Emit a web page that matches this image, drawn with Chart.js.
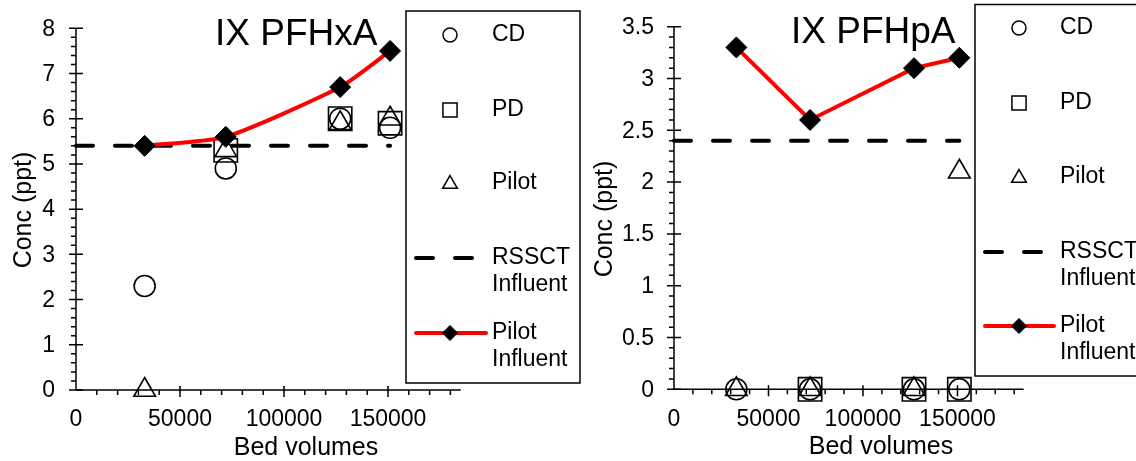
<!DOCTYPE html>
<html>
<head>
<meta charset="utf-8">
<title>IX PFHxA / PFHpA</title>
<script src="https://cdn.jsdelivr.net/npm/chart.js@4/dist/chart.umd.min.js"></script>
<style>
    html, body { margin: 0; padding: 0; background: #fff; }
    #wrap { position: relative; width: 1136px; height: 461px; overflow: hidden; }
    #wrap canvas { position: absolute; left: 0; top: 0; }
</style>
</head>
<body>
<div id="wrap">
    <canvas id="chartHxA" width="1136" height="461"></canvas>
    <canvas id="chartHpA" width="1136" height="461"></canvas>
</div>
<script>
// bed volumes of the sampling points (same for both panels)
const bedVolumes = [33000, 72000, 127000, 151000];
const rssctSpan = [0, 151000];
const xTickLabels = ['0', '50000', '100000', '150000'];

// PFHxA (ppt)
const hxaCD = [2.3, 4.9, 6.0, 5.8];
const hxaPD = [null, 5.3, 6.0, 5.9];
const hxaPilot = [0, 5.3, 5.9, 6.0];
const hxaRssctInfluent = 5.4;
const hxaPilotInfluent = [5.4, 5.6, 6.7, 7.5];
const hxaYTicks = ['0', '1', '2', '3', '4', '5', '6', '7', '8'];

// PFHpA (ppt)
const hpaCD = [0, 0, 0, 0];
const hpaPD = [null, 0, 0, 0];
const hpaPilot = [0, 0, 0, 2.1];
const hpaRssctInfluent = 2.4;
const hpaPilotInfluent = [3.3, 2.6, 3.1, 3.2];
const hpaYTicks = ['0', '0.5', '1', '1.5', '2', '2.5', '3', '3.5'];

const legendNames = ['CD', 'PD', 'Pilot', ['RSSCT', 'Influent'], ['Pilot', 'Influent']];

const FONT = '"Liberation Sans", Arial, sans-serif';

function toPoints(ys) {
    const pts = [];
    ys.forEach((y, i) => {
        if (y !== null) pts.push({ x: bedVolumes[i], y: y });
    });
    return pts;
}

function markerSet(label, ys, style, radius, order) {
    return {
        label: label,
        data: toPoints(ys),
        showLine: false,
        pointStyle: style,
        pointRadius: radius,
        pointHoverRadius: radius,
        pointBackgroundColor: 'rgba(0,0,0,0)',
        pointBorderColor: '#000',
        pointBorderWidth: 1.6,
        clip: false,
        order: order
    };
}

// axes, ticks and all text, drawn Excel style
const excelPlugin = {
    id: 'excelLook',
    beforeDatasetsDraw(chart, args, o) {
        const ctx = chart.ctx;
        const xs = chart.scales.x, ys = chart.scales.y;
        const ax = xs.getPixelForValue(0), ay = ys.getPixelForValue(0);
        ctx.save();
        ctx.strokeStyle = '#000';
        ctx.lineWidth = 1.5;
        ctx.beginPath();
        ctx.moveTo(ax, ys.getPixelForValue(o.yMax));
        ctx.lineTo(ax, ay);
        ctx.moveTo(ax, ay);
        ctx.lineTo(xs.getPixelForValue(o.xMax), ay);
        ctx.stroke();

        // y ticks
        ctx.beginPath();
        const ny = Math.round(o.yMax / o.yMinor);
        for (let i = 0; i <= ny; i++) {
            const v = i * o.yMinor;
            const py = ys.getPixelForValue(v);
            const major = Math.abs(v / o.yMajor - Math.round(v / o.yMajor)) < 1e-6;
            if (major) { ctx.moveTo(ax - 7, py); ctx.lineTo(ax + 7, py); }
            else { ctx.moveTo(ax - 5, py); ctx.lineTo(ax, py); }
        }
        // x ticks
        const nx = Math.floor(o.xMax / o.xMinor);
        for (let i = 1; i <= nx; i++) {
            const v = i * o.xMinor;
            const px = xs.getPixelForValue(v);
            if (v % o.xMajor === 0) { ctx.moveTo(px, ay - 4); ctx.lineTo(px, ay + 7); }
            else { ctx.moveTo(px, ay); ctx.lineTo(px, ay + 5); }
        }
        ctx.stroke();
        ctx.restore();
    },
    afterDraw(chart, args, o) {
        const ctx = chart.ctx;
        const xs = chart.scales.x, ys = chart.scales.y;
        const ax = xs.getPixelForValue(0), ay = ys.getPixelForValue(0);
        ctx.save();
        ctx.fillStyle = '#000';

        // tick labels
        ctx.font = '23px ' + FONT;
        ctx.textAlign = 'right';
        ctx.textBaseline = 'middle';
        o.yLabels.forEach((t, i) => {
            ctx.fillText(t, ax - o.yLabelGap, ys.getPixelForValue(i * o.yMajor) + 1);
        });
        ctx.textAlign = 'center';
        xTickLabels.forEach((t, i) => {
            ctx.fillText(t, xs.getPixelForValue(i * o.xMajor), ay + 30);
        });

        // axis titles
        ctx.font = '25px ' + FONT;
        ctx.fillText('Bed volumes', o.xTitle[0], o.xTitle[1]);
        ctx.save();
        ctx.translate(o.yTitle[0], o.yTitle[1]);
        ctx.rotate(-Math.PI / 2);
        ctx.fillText('Conc (ppt)', 0, 0);
        ctx.restore();

        // panel title
        ctx.font = '37px ' + FONT;
        ctx.textAlign = 'left';
        ctx.textBaseline = 'alphabetic';
        ctx.fillText(o.title, o.titlePos[0], o.titlePos[1]);

        // legend box
        const L = o.legend;
        ctx.fillStyle = '#fff';
        ctx.fillRect(L.left, L.top, L.right - L.left, L.bottom - L.top);
        ctx.strokeStyle = '#000';
        ctx.lineWidth = 1.5;
        ctx.strokeRect(L.left, L.top, L.right - L.left, L.bottom - L.top);

        const mx = L.markerX;
        const h = Chart.helpers;
        ctx.fillStyle = 'rgba(0,0,0,0)';
        ctx.lineWidth = 1.5;
        h.drawPoint(ctx, { pointStyle: 'circle', radius: 7, borderWidth: 1.5 }, mx, L.rows[0]);
        h.drawPoint(ctx, { pointStyle: 'rect', radius: 10, borderWidth: 1.5 }, mx, L.rows[1]);
        h.drawPoint(ctx, { pointStyle: 'triangle', radius: 8.5, borderWidth: 1.5 }, mx, L.rows[2] + 1);

        // dashed line sample
        ctx.save();
        ctx.lineWidth = 4;
        ctx.lineCap = 'round';
        ctx.setLineDash([17, 22]);
        ctx.beginPath();
        ctx.moveTo(L.lineFrom, L.rows[3]);
        ctx.lineTo(L.dashTo, L.rows[3]);
        ctx.stroke();
        ctx.restore();

        // red line with diamond
        ctx.save();
        ctx.strokeStyle = '#ff0000';
        ctx.lineWidth = 4;
        ctx.lineCap = 'round';
        ctx.beginPath();
        ctx.moveTo(L.lineFrom, L.rows[4]);
        ctx.lineTo(L.redTo, L.rows[4]);
        ctx.stroke();
        ctx.restore();
        ctx.fillStyle = '#000';
        ctx.strokeStyle = '#000';
        ctx.lineWidth = 1;
        h.drawPoint(ctx, { pointStyle: 'rectRot', radius: 7.5, borderWidth: 1 }, mx, L.rows[4]);

        // legend text
        ctx.fillStyle = '#000';
        ctx.font = '23px ' + FONT;
        ctx.textAlign = 'left';
        ctx.textBaseline = 'middle';
        legendNames.forEach((name, i) => {
            if (Array.isArray(name)) {
                ctx.fillText(name[0], L.textX, L.rows[i]);
                ctx.fillText(name[1], L.textX, L.rows[i] + 27);
            } else {
                ctx.fillText(name, L.textX, L.rows[i]);
            }
        });
        ctx.restore();
    }
};

function makePanel(canvasId, d, look) {
    const ctx = document.getElementById(canvasId).getContext('2d');
    return new Chart(ctx, {
        type: 'scatter',
        data: {
            datasets: [
                {
                    label: 'Pilot Influent',
                    data: toPoints(d.pilotInf),
                    showLine: true,
                    borderColor: '#ff0000',
                    borderWidth: 4,
                    tension: d.tension,
                    pointStyle: 'rectRot',
                    pointRadius: 10.5,
                    pointHoverRadius: 10.5,
                    pointBackgroundColor: '#000',
                    pointBorderColor: '#000',
                    pointBorderWidth: 1,
                    clip: false,
                    order: 0
                },
                {
                    label: 'RSSCT Influent',
                    data: rssctSpan.map(x => ({ x: x, y: d.rssct })),
                    showLine: true,
                    borderColor: '#000',
                    borderWidth: 4,
                    borderDash: [17, 22],
                    borderCapStyle: 'round',
                    pointRadius: 0,
                    clip: false,
                    order: 1
                },
                markerSet('Pilot', d.pilot, 'triangle', 12.5, 2),
                markerSet('PD', d.pd, 'rect', 16.5, 3),
                markerSet('CD', d.cd, 'circle', 10.5, 4)
            ]
        },
        options: {
            responsive: false,
            devicePixelRatio: 1,
            animation: false,
            events: [],
            layout: { padding: look.padding },
            scales: {
                x: { type: 'linear', min: 0, max: look.xMax, display: false },
                y: { type: 'linear', min: 0, max: look.yMax, display: false }
            },
            plugins: {
                legend: { display: false },
                tooltip: { enabled: false },
                excelLook: look
            }
        },
        plugins: [excelPlugin]
    });
}

// left panel: PFHxA
makePanel('chartHxA', {
    cd: hxaCD, pd: hxaPD, pilot: hxaPilot,
    rssct: hxaRssctInfluent, pilotInf: hxaPilotInfluent, tension: 0.2
}, {
    padding: { left: 76, top: 28.3, right: 1136 - 460.8, bottom: 461 - 390 },
    xMax: 185000, xMajor: 50000, xMinor: 10000,
    yMax: 8, yMajor: 1, yMinor: 0.2, yLabels: hxaYTicks, yLabelGap: 21,
    title: 'IX PFHxA', titlePos: [215, 45],
    xTitle: [306, 448], yTitle: [24, 210],
    legend: {
        left: 406, top: 11, right: 580, bottom: 383,
        markerX: 450, textX: 492, lineFrom: 416, dashTo: 472, redTo: 486,
        rows: [35, 110, 183, 258, 333]
    }
});

// right panel: PFHpA
makePanel('chartHpA', {
    cd: hpaCD, pd: hpaPD, pilot: hpaPilot,
    rssct: hpaRssctInfluent, pilotInf: hpaPilotInfluent, tension: 0
}, {
    padding: { left: 674, top: 26.7, right: 1136 - 1023.6, bottom: 461 - 389.3 },
    xMax: 185000, xMajor: 50000, xMinor: 10000,
    yMax: 3.5, yMajor: 0.5, yMinor: 0.1, yLabels: hpaYTicks, yLabelGap: 20,
    title: 'IX PFHpA', titlePos: [791, 43],
    xTitle: [881, 447], yTitle: [605, 219],
    legend: {
        left: 975, top: 4.5, right: 1145, bottom: 376,
        markerX: 1019, textX: 1060, lineFrom: 985, dashTo: 1041, redTo: 1054,
        rows: [28, 103, 177, 252, 326]
    }
});
</script>
</body>
</html>
